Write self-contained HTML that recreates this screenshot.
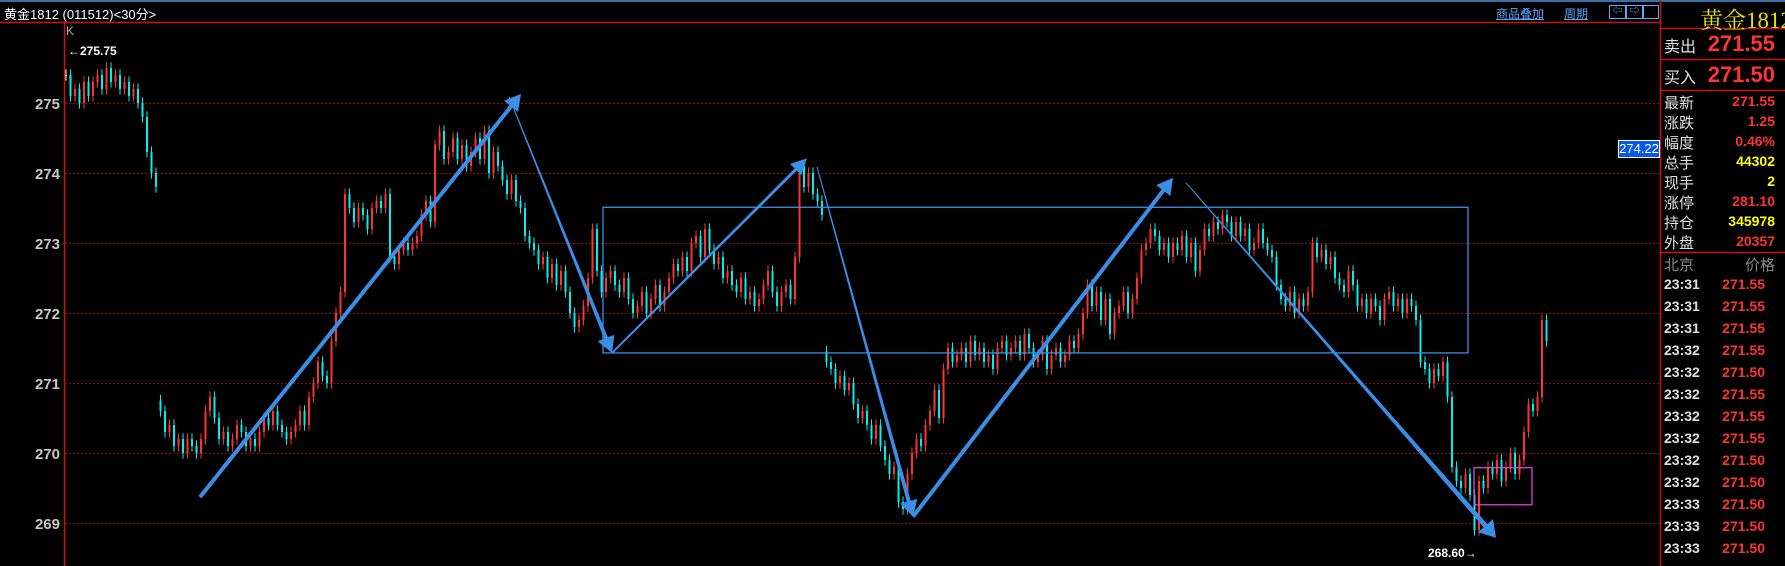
<!DOCTYPE html>
<html><head><meta charset="utf-8">
<style>
body{margin:0;background:#000;width:1785px;height:566px;overflow:hidden;font-family:"Liberation Sans","Noto Sans CJK SC",sans-serif;}
#wrap{position:relative;width:1785px;height:566px;}
.t{position:absolute;white-space:nowrap;}
.lk{color:#5aa8ff;text-decoration:underline;font-size:12px;}
.pl{position:absolute;left:1664px;color:#e0e0e0;font-size:15px;}
.pv{position:absolute;right:10px;font-size:14px;font-weight:bold;text-align:right;}
</style></head><body>
<div id="wrap">
<svg id="chart" width="1785" height="566" style="position:absolute;left:0;top:0"></svg>
<div class="t" style="left:4px;top:4px;color:#fff;font-size:13px">黄金1812 (011512)&lt;30分&gt;</div>
<div class="t lk" style="left:1496px;top:5px">商品叠加</div>
<div class="t lk" style="left:1564px;top:5px">周期</div>
<div class="t" style="left:1609px;top:5px;width:15px;height:12px;border:1px solid #5aa8ff;color:#5aa8ff;font-size:10px;line-height:12px;text-align:center">⇦</div>
<div class="t" style="left:1626px;top:5px;width:15px;height:12px;border:1px solid #5aa8ff;color:#5aa8ff;font-size:10px;line-height:12px;text-align:center">⇨</div>
<div class="t" style="left:1643px;top:5px;width:14px;height:12px;border:1px solid #5aa8ff"></div>
<div class="t" style="left:66px;top:24px;color:#aaa;font-size:12px">K</div>
<div class="t" style="left:68px;top:44px;color:#fff;font-size:12px;font-weight:bold">←275.75</div>
<div class="t" style="left:1428px;top:546px;color:#fff;font-size:12px;font-weight:bold">268.60→</div>
<div class="t" style="left:1618px;top:140px;width:40px;height:16px;background:#0a58e8;border:1px solid #fff;color:#fff;font-size:13px;line-height:16px;text-align:center">274.22</div>

<div class="t" style="left:1700px;top:2px;color:#e8e000;font-size:23px;font-family:'Liberation Serif','Noto Serif CJK SC',serif">黄金1812</div>
<div class="pl" style="top:33px;font-size:16px">卖出</div>
<div class="pv" style="top:31px;font-size:22px;color:#ff3333">271.55</div>
<div class="pl" style="top:64px;font-size:16px">买入</div>
<div class="pv" style="top:62px;font-size:22px;color:#ff3333">271.50</div>
<div id="stats"></div>
<div class="pl" style="top:254px;color:#888">北京</div>
<div class="pv" style="top:254px;color:#888;font-weight:normal;font-size:15px">价格</div>
<div id="ticks"></div>
</div>
<script>
const closes=[275.4,275.1,275.2,275.0,275.3,275.1,275.3,275.4,275.2,275.5,
275.3,275.4,275.2,275.3,275.1,275.2,275.0,274.8,274.3,274.0,
273.8,270.6,270.3,270.4,270.1,270.2,270.0,270.2,270.1,270.0,
270.2,270.6,270.8,270.5,270.2,270.3,270.1,270.2,270.4,270.3,
270.1,270.2,270.1,270.3,270.5,270.4,270.6,270.4,270.3,270.2,
270.3,270.4,270.6,270.4,270.8,271.0,271.3,271.1,271.0,271.6,
272.0,272.3,273.7,273.5,273.3,273.5,273.4,273.2,273.5,273.6,
273.5,273.7,272.8,272.7,272.9,273.0,272.9,273.0,273.1,273.4,
273.6,273.3,274.4,274.6,274.2,274.3,274.5,274.2,274.4,274.1,
274.3,274.5,274.2,274.6,274.0,274.3,274.1,273.9,273.7,273.9,
273.6,273.5,273.1,273.0,272.9,272.7,272.8,272.5,272.7,272.4,
272.6,272.3,272.0,271.8,271.9,272.1,272.5,273.2,272.6,272.3,
272.5,272.6,272.4,272.3,272.5,272.2,272.0,272.1,272.3,272.0,
272.2,272.4,272.1,272.3,272.5,272.7,272.6,272.8,272.6,273.0,
273.1,272.8,273.2,272.9,272.7,272.8,272.5,272.6,272.4,272.3,
272.5,272.2,272.3,272.1,272.2,272.4,272.6,272.3,272.1,272.3,
272.4,272.2,272.8,274.1,273.8,274.0,273.7,273.6,273.4,271.3,
271.2,271.0,271.1,270.9,271.0,270.7,270.5,270.6,270.4,270.2,
270.4,270.1,269.9,269.7,269.8,269.3,269.2,269.7,270.0,270.2,
270.1,270.4,270.6,270.9,270.5,271.2,271.5,271.3,271.4,271.5,
271.3,271.6,271.4,271.5,271.3,271.4,271.2,271.5,271.6,271.4,
271.5,271.6,271.4,271.7,271.5,271.3,271.4,271.6,271.2,271.4,
271.5,271.3,271.4,271.6,271.5,271.7,272.0,272.4,272.1,272.3,
271.9,272.2,271.7,272.0,272.1,272.3,272.0,272.2,272.5,272.9,
273.0,273.2,273.1,272.9,273.0,272.8,273.0,272.9,273.1,272.8,
273.0,272.6,272.9,273.2,273.1,273.3,273.2,273.4,273.3,273.1,
273.3,273.1,273.2,272.9,273.0,273.2,273.0,272.9,272.8,272.4,
272.2,272.1,272.3,272.0,272.2,272.1,272.3,273.0,272.8,272.9,
272.7,272.8,272.5,272.4,272.3,272.6,272.4,272.1,272.2,272.0,
272.2,272.1,271.9,272.2,272.3,272.1,272.2,272.0,272.2,272.1,
271.9,271.3,271.2,271.0,271.2,271.1,271.3,270.8,269.8,269.6,
269.5,269.7,269.4,268.9,269.6,269.5,269.8,269.7,269.9,269.6,
269.8,270.0,269.7,269.9,270.3,270.7,270.6,270.8,271.9,271.6];
const yTicks=[275,274,273,272,271,270,269];
const statLabels=["最新","涨跌","幅度","总手","现手","涨停","持仓","外盘"];
const statValues=["271.55","1.25","0.46%","44302","2","281.10","345978","20357"];
const statColors=["#ff3333","#ff3333","#ff3333","#ffff00","#ffff00","#ff3333","#ffff00","#ff3333"];
const tickTimes=["23:31","23:31","23:31","23:32","23:32","23:32","23:32","23:32","23:32","23:32","23:33","23:33","23:33"];
const tickPrices=["271.55","271.55","271.55","271.55","271.50","271.55","271.55","271.55","271.50","271.50","271.50","271.50","271.50"];
const trendArrows=[[200,269.37,521,275.13,4,4],[509,275.09,612,271.43,1,4],[612,271.43,807,274.21,2,3],[817,274.09,913,269.09,1,4],[913,269.09,1173,273.93,4,4],[1186,273.86,1496,268.79,1,5]];
const rangeBox=[603,273.51,1468,271.43];
const consolBox=[1474,269.79,1532,269.26];

const NS="http://www.w3.org/2000/svg";
const svg=document.getElementById('chart');
const X=i=>64+4.5*i+2;
const Y=p=>103+(275-p)*70;
function mk(tag,attrs,parent){const e=document.createElementNS(NS,tag);for(const k in attrs)e.setAttribute(k,attrs[k]);(parent||svg).appendChild(e);return e;}
let e;
e=mk('rect',{x:0,y:0,width:1785,height:2,fill:'#3a6ea5'});


e=mk('line',{x1:0,y1:22.5,x2:1660,y2:22.5,stroke:'#d01010','stroke-width':1.5});


e=mk('line',{x1:64.5,y1:22,x2:64.5,y2:566,stroke:'#d01010','stroke-width':1.5});


e=mk('line',{x1:1660.5,y1:0,x2:1660.5,y2:566,stroke:'#d01010','stroke-width':1.5});


[28,59,90,252].forEach(y=>{e=mk('line',{x1:1660,y1:y+.5,x2:1785,y2:y+.5,stroke:'#d01010','stroke-width':1.5});

});
yTicks.forEach(v=>{
 e=mk('line',{x1:65,y1:Y(v)+.5,x2:1660,y2:Y(v)+.5,stroke:'#a00000','stroke-dasharray':'2,2','stroke-width':1});
 
 
 e=mk('text',{x:60,y:Y(v)+6,'text-anchor':'end',fill:'#c8c8c8','font-size':15,'font-weight':'bold','font-family':'Liberation Sans, sans-serif'});
 e.textContent=v;
 
 
});
for(let i=0;i<closes.length;i++){
 const c=closes[i];
 let o=i>0?closes[i-1]:c;
 if(Math.abs(c-o)>1.8) o=c+(o>c?0.15:-0.15);
 const col=c>o?'#ff3232':(c<o?'#00f0f0':'#ffffff');
 const hi=Math.max(o,c)+0.08,lo=Math.min(o,c)-0.08;
 const g=mk('g',{});
 
 
 mk('line',{x1:X(i),y1:Y(hi),x2:X(i),y2:Y(lo),stroke:col,'stroke-width':1},g);
 mk('rect',{x:X(i)-1,y:Math.min(Y(o),Y(c)),width:2,height:Math.max(1,Math.abs(Y(o)-Y(c))),fill:col},g);
}
e=mk('rect',{x:rangeBox[0],y:Y(rangeBox[1]),width:rangeBox[2]-rangeBox[0],height:Y(rangeBox[3])-Y(rangeBox[1]),fill:'none',stroke:'#3a8ee6','stroke-width':1.3});


e=mk('rect',{x:consolBox[0],y:Y(consolBox[1]),width:consolBox[2]-consolBox[0],height:Y(consolBox[3])-Y(consolBox[1]),fill:'none',stroke:'#e040e0','stroke-width':1.3});


trendArrows.forEach(a=>{
 const x0=a[0],y0=Y(a[1]),x1=a[2],y1=Y(a[3]),w0=a[4],w1=a[5];
 const dx=x1-x0,dy=y1-y0,L=Math.hypot(dx,dy),ux=dx/L,uy=dy/L,nx=-uy,ny=ux;
 const hl=16,hw=w1+5;
 const bx=x1-ux*hl,by=y1-uy*hl;
 const pts=[[x0+nx*w0/2,y0+ny*w0/2],[bx+nx*w1/2,by+ny*w1/2],[bx+nx*hw,by+ny*hw],[x1,y1],[bx-nx*hw,by-ny*hw],[bx-nx*w1/2,by-ny*w1/2],[x0-nx*w0/2,y0-ny*w0/2]];
 e=mk('polygon',{points:pts.map(p=>p.join(',')).join(' '),fill:'#3a8ee6'});
 
 
});
let st=document.getElementById('stats');
statLabels.forEach((l,i)=>{
 const d=document.createElement('div');d.className='pl';d.style.top=(92+i*20)+'px';d.textContent=l;
 
 
 st.appendChild(d);
 const v=document.createElement('div');v.className='pv';v.style.top=(93+i*20)+'px';v.style.color=statColors[i];v.textContent=statValues[i];
 
 
 st.appendChild(v);
});
let tk=document.getElementById('ticks');
tickTimes.forEach((t,i)=>{
 const d=document.createElement('div');d.className='pl';d.style.top=(276+i*22)+'px';d.style.fontWeight='bold';d.style.fontSize='14px';d.textContent=t;
 
 
 tk.appendChild(d);
 const v=document.createElement('div');v.className='pv';v.style.top=(276+i*22)+'px';v.style.right='20px';v.style.color='#ff3333';v.textContent=tickPrices[i];
 
 
 tk.appendChild(v);
});
</script>
</body></html>
